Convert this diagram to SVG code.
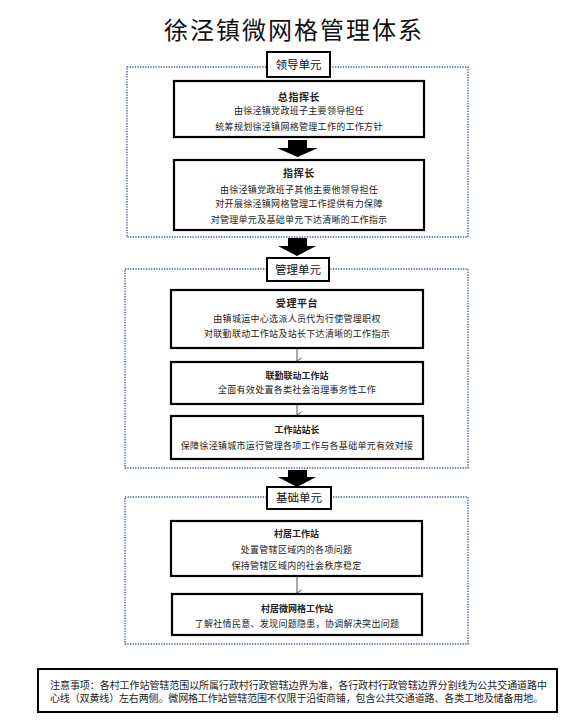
<svg xmlns="http://www.w3.org/2000/svg" width="588" height="726" viewBox="0 0 588 726">
<defs>
<style>
text{font-family:"Noto Sans CJK SC","Noto Sans",sans-serif;fill:#222;text-anchor:middle}
.title{font-size:24px;letter-spacing:2px;fill:#111}
.sec{fill:none;stroke:#3d5f95;stroke-width:1.4;stroke-dasharray:1.3 1.3}
.lab{fill:#fff;stroke:#000;stroke-width:2}
.labt{font-size:11.5px;fill:#111}
.node{fill:#fff;stroke:#000;stroke-width:2.2}
.nt{font-size:10px;font-weight:bold;letter-spacing:0.6px}
.nt2{font-size:9px;font-weight:bold}
.nb{font-size:9px;letter-spacing:0.3px}
.fat{fill:#000}
.thin{fill:none;stroke:#555;stroke-width:1}
.note{fill:#fff;stroke:#000;stroke-width:2}
.notet{font-size:10px;text-anchor:start}
</style>
<marker id="vh" viewBox="0 0 8 8" refX="4" refY="7.5" markerWidth="8" markerHeight="8" markerUnits="userSpaceOnUse" orient="auto-start-reverse">
<path d="M1,3 L4,7.5 L7,3" fill="none" stroke="#555" stroke-width="1"/>
</marker>
</defs>
<rect width="588" height="726" fill="#fff"/>
<text class="title" x="294" y="39">徐泾镇微网格管理体系</text>

<g id="sections">
<rect class="sec" x="127" y="67" width="341" height="170"/>
<rect class="sec" x="125" y="269" width="343" height="199"/>
<rect class="sec" x="125" y="497" width="343" height="147"/>
</g>

<g id="connectors">
<path class="fat" d="M288,140 H307 V148 H318 L297.5,157 L277,148 H288 Z"/>
<path class="fat" d="M288,238 H307 V246 H316 L297,256 L278,246 H288 Z"/>
<path class="fat" d="M288,470 H307 V477 H316 L297,487 L278,477 H288 Z"/>
<line class="thin" x1="297" y1="348" x2="297" y2="361" marker-end="url(#vh)"/>
<line class="thin" x1="297" y1="404" x2="297" y2="415" marker-end="url(#vh)"/>
<line class="thin" x1="297" y1="576" x2="297" y2="593" marker-end="url(#vh)"/>
</g>

<g id="label-lead">
<rect class="lab" x="267" y="52" width="63" height="25"/>
<text class="labt" x="298.5" y="68.5">领导单元</text>
</g>
<g id="label-manage">
<rect class="lab" x="267" y="258" width="62" height="23"/>
<text class="labt" x="298" y="273.5">管理单元</text>
</g>
<g id="label-base">
<rect class="lab" x="267" y="487" width="64" height="22"/>
<text class="labt" x="299" y="502">基础单元</text>
</g>

<g id="n1">
<rect class="node" x="174" y="81" width="250" height="56"/>
<text class="nt" x="299" y="101">总指挥长</text>
<text class="nb" x="299" y="114">由徐泾镇党政班子主要领导担任</text>
<text class="nb" x="299" y="130">统筹规划徐泾镇网格管理工作的工作方针</text>
</g>
<g id="n2">
<rect class="node" x="174" y="160" width="250" height="70"/>
<text class="nt" x="299" y="177">指挥长</text>
<text class="nb" x="299" y="192.5">由徐泾镇党政班子其他主要他领导担任</text>
<text class="nb" x="299" y="207">对开展徐泾镇网格管理工作提供有力保障</text>
<text class="nb" x="299" y="223">对管理单元及基础单元下达清晰的工作指示</text>
</g>
<g id="n3">
<rect class="node" x="171" y="290" width="252" height="58"/>
<text class="nt" x="297" y="307">受理平台</text>
<text class="nb" x="297" y="321.5">由镇城运中心选派人员代为行使管理职权</text>
<text class="nb" x="297" y="337">对联勤联动工作站及站长下达清晰的工作指示</text>
</g>
<g id="n4">
<rect class="node" x="171" y="362" width="252" height="42"/>
<text class="nt2" x="297" y="378.5">联勤联动工作站</text>
<text class="nb" x="297" y="392.5">全面有效处置各类社会治理事务性工作</text>
</g>
<g id="n5">
<rect class="node" x="171" y="416" width="252" height="43"/>
<text class="nt2" x="297" y="432.5">工作站站长</text>
<text class="nb" x="297" y="448.5">保障徐泾镇城市运行管理各项工作与各基础单元有效对接</text>
</g>
<g id="n6">
<rect class="node" x="171" y="521" width="251" height="55"/>
<text class="nt2" x="296.5" y="536.5">村居工作站</text>
<text class="nb" x="296.5" y="552.5">处置管辖区域内的各项问题</text>
<text class="nb" x="296.5" y="568.5">保持管辖区域内的社会秩序稳定</text>
</g>
<g id="n7">
<rect class="node" x="172" y="594" width="250" height="41"/>
<text class="nt2" x="297" y="611.5">村居微网格工作站</text>
<text class="nb" x="297" y="626.5">了解社情民意、发现问题隐患，协调解决突出问题</text>
</g>

<g id="note">
<rect class="note" x="38" y="669" width="519" height="43"/>
<text class="notet" x="50" y="688.5" textLength="497" lengthAdjust="spacing">注意事项：各村工作站管辖范围以所属行政村行政管辖边界为准，各行政村行政管辖边界分割线为公共交通道路中</text>
<text class="notet" x="50" y="702" textLength="493" lengthAdjust="spacing">心线（双黄线）左右两侧。微网格工作站管辖范围不仅限于沿街商铺，包含公共交通道路、各类工地及储备用地。</text>
</g>
</svg>
